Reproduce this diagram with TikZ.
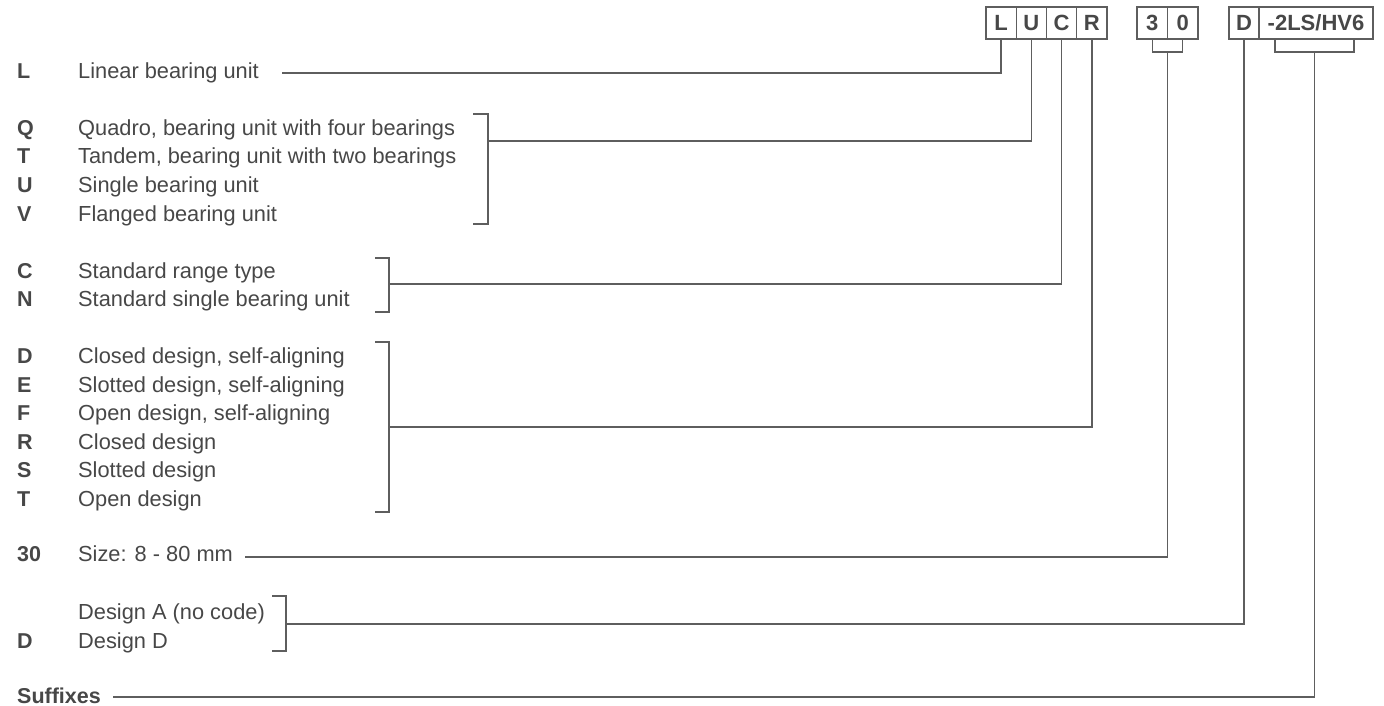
\documentclass[tikz,border=0pt]{standalone}
\usepackage{fontspec}
\setmainfont{Liberation Sans}
\definecolor{txt}{HTML}{474747}
\definecolor{ln}{HTML}{5E5E5E}
\begin{document}
\begin{tikzpicture}[x=1pt,y=-1pt,
  code/.style={anchor=base west, inner sep=0pt, font=\fontsize{21.5}{25}\selectfont\bfseries, text=txt},
  desc/.style={anchor=base west, inner sep=0pt, font=\fontsize{21.8}{25}\selectfont, text=txt},
  cell/.style={draw=ln, line width=1.3pt, minimum height=32pt, inner sep=0pt, font=\fontsize{22}{25}\selectfont\bfseries, text=txt},
  conn/.style={draw=ln, line width=1.3pt},
]
\useasboundingbox (0,0) rectangle (1384,706);
% code boxes
\node[cell, minimum width=30.25pt] (cL) at (1001.1,23) {L};
\node[cell, minimum width=30.25pt] (cU) at (1031.4,23) {U};
\node[cell, minimum width=30.25pt] (cC) at (1061.6,23) {C};
\node[cell, minimum width=30.25pt] (cR) at (1091.9,23) {R};
\node[cell, minimum width=30.5pt] (c3) at (1152.25,23) {3};
\node[cell, minimum width=30.5pt] (c0) at (1182.75,23) {0};
\node[cell, minimum width=30pt] (cD) at (1244,23) {D};
\node[cell, minimum width=114pt] (cS) at (1316,23) {-2LS/HV6};
% left column
\node[code] (kL) at (17,78.5) {L};
\node[desc] (tL) at (78,78.5) {Linear bearing unit};
\node[code] (kQ) at (17,135.5) {Q};
\node[desc] (tQ) at (78,135.5) {Quadro, bearing unit with four bearings};
\node[code] (kT) at (17,164) {T};
\node[desc] (tT) at (78,164) {Tandem, bearing unit with two bearings};
\node[code] (kU) at (17,192.5) {U};
\node[desc] (tU) at (78,192.5) {Single bearing unit};
\node[code] (kV) at (17,221) {V};
\node[desc] (tV) at (78,221) {Flanged bearing unit};
\node[code] (kC) at (17,278) {C};
\node[desc] (tC) at (78,278) {Standard range type};
\node[code] (kN) at (17,306.5) {N};
\node[desc] (tN) at (78,306.5) {Standard single bearing unit};
\node[code] (kD1) at (17,363.5) {D};
\node[desc] (tD1) at (78,363.5) {Closed design, self-aligning};
\node[code] (kE) at (17,392) {E};
\node[desc] (tE) at (78,392) {Slotted design, self-aligning};
\node[code] (kF) at (17,420.5) {F};
\node[desc] (tF) at (78,420.5) {Open design, self-aligning};
\node[code] (kR) at (17,449) {R};
\node[desc] (tR) at (78,449) {Closed design};
\node[code] (kS) at (17,477.5) {S};
\node[desc] (tS) at (78,477.5) {Slotted design};
\node[code] (kT2) at (17,506) {T};
\node[desc] (tT2) at (78,506) {Open design};
\node[code] (k30) at (17,561) {30};
\node[desc] (t30) at (78,561) {Size: 8 - 80 mm};
\node[desc] (tA) at (78,619) {Design A (no code)};
\node[code] (kD2) at (17,648) {D};
\node[desc] (tD2) at (78,648) {Design D};
\node[code] (kSuf) at (17,703) {Suffixes};
% brackets
\draw[conn] (473,114) -- (488,114) -- (488,224) -- (473,224);
\draw[conn] (375,258) -- (389,258) -- (389,312) -- (375,312);
\draw[conn] (375,342) -- (389,342) -- (389,512) -- (375,512);
\draw[conn] (272,596) -- (286,596) -- (286,651) -- (272,651);
\draw[conn] (c3.south) -- (c3.south |- 0,52) -- (c0.south |- 0,52) -- (c0.south);
\draw[conn] (1275,39) -- (1275,52) -- (1354,52) -- (1354,39);
% connector start points
\coordinate (aL) at (282,73);
\coordinate (aU) at (488,141);
\coordinate (aC) at (389,284);
\coordinate (aR) at (389,427);
\coordinate (a30) at (245,557);
\coordinate (b30) at (1167.5,52);
\coordinate (aD) at (286,624);
\coordinate (aS) at (113,697);
\coordinate (bS) at (1314.5,52);
% connectors
\draw[conn] (aL) -| (cL.south);
\draw[conn] (aU) -| (cU.south);
\draw[conn] (aC) -| (cC.south);
\draw[conn] (aR) -| (cR.south);
\draw[conn] (a30) -| (b30);
\draw[conn] (aD) -| (cD.south);
\draw[conn] (aS) -| (bS);
\end{tikzpicture}
\end{document}
